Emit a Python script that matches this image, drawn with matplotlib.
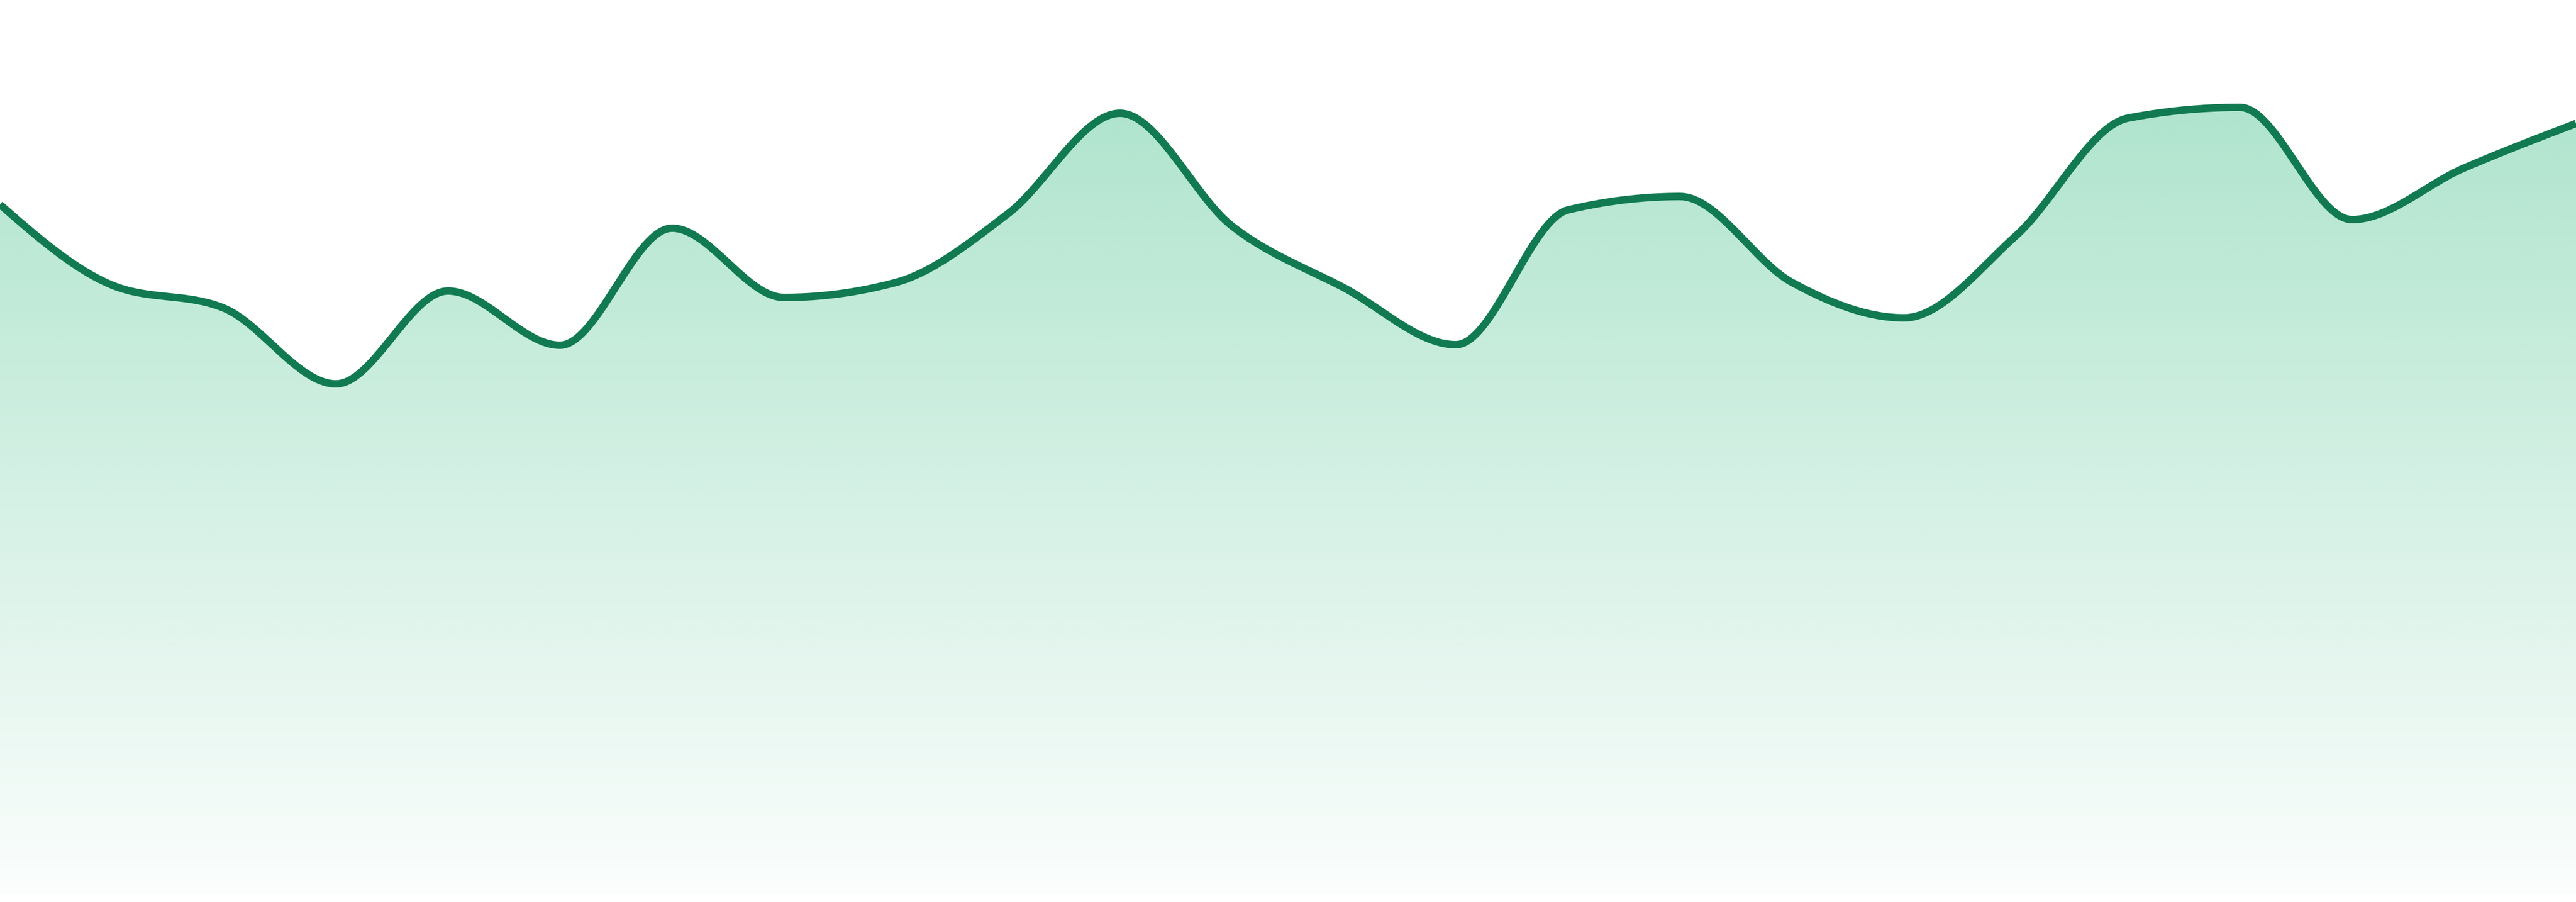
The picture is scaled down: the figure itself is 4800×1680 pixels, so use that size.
import numpy as np
import matplotlib
matplotlib.use("Agg")
import matplotlib.pyplot as plt
from matplotlib.patches import Polygon

# one value per point, evenly spaced across the width
values = [128.5, 113.5, 109.2, 95.1, 112.4, 102.3, 124.1, 111.2,
          114.0, 126.8, 145.5, 124.5, 113.0, 102.4, 127.5, 130.0,
          114.0, 107.4, 122.7, 144.6, 146.6, 125.7, 135.3, 143.6]

line_color = "#117a51"
fill_rgb = (45 / 255, 185 / 255, 125 / 255)


def monotone_x(y, samples=40):
    # same idea as d3.curveMonotoneX, points spaced one unit apart
    y = np.asarray(y, dtype=float)
    n = len(y)
    d = np.diff(y)
    t = np.zeros(n)
    sgn = lambda v: -1.0 if v < 0 else 1.0
    for i in range(1, n - 1):
        s0, s1 = d[i - 1], d[i]
        p = (s0 + s1) / 2
        t[i] = (sgn(s0) + sgn(s1)) * min(abs(s0), abs(s1), 0.5 * abs(p))
    t[0] = (3 * d[0] - t[1]) / 2
    t[-1] = (3 * d[-1] - t[-2]) / 2
    xs, ys = [], []
    for i in range(n - 1):
        u = np.linspace(0, 1, samples, endpoint=(i == n - 2))
        h00 = 2 * u**3 - 3 * u**2 + 1
        h10 = u**3 - 2 * u**2 + u
        h01 = -2 * u**3 + 3 * u**2
        h11 = u**3 - u**2
        xs.append(i + u)
        ys.append(h00 * y[i] + h10 * t[i] + h01 * y[i + 1] + h11 * t[i + 1])
    return np.concatenate(xs), np.concatenate(ys)


cx, cy = monotone_x(values)

fig = plt.figure(figsize=(48, 16.8), dpi=100)
ax = fig.add_axes([0, 0, 1, 1])
ax.set_xlim(0, len(values) - 1)
ax.set_ylim(-1.4, 166.6)
ax.axis("off")

# gradient under the line
top = cy.max()
grad = np.zeros((256, 2, 4))
grad[..., 0], grad[..., 1], grad[..., 2] = fill_rgb
alpha = np.linspace(0.38, 0.02, 256)
grad[..., 3] = alpha[:, None]
img = ax.imshow(grad, extent=[0, len(values) - 1, 0, top], aspect="auto",
                origin="upper", interpolation="bilinear", zorder=1)
poly = Polygon(np.column_stack([np.r_[cx, cx[-1], cx[0]], np.r_[cy, 0, 0]]),
               closed=True, facecolor="none", edgecolor="none")
ax.add_patch(poly)
img.set_clip_path(poly)

ax.plot(cx, cy, color=line_color, lw=10, solid_capstyle="butt", zorder=2)

fig.savefig("out.png", dpi=100, facecolor="white")
